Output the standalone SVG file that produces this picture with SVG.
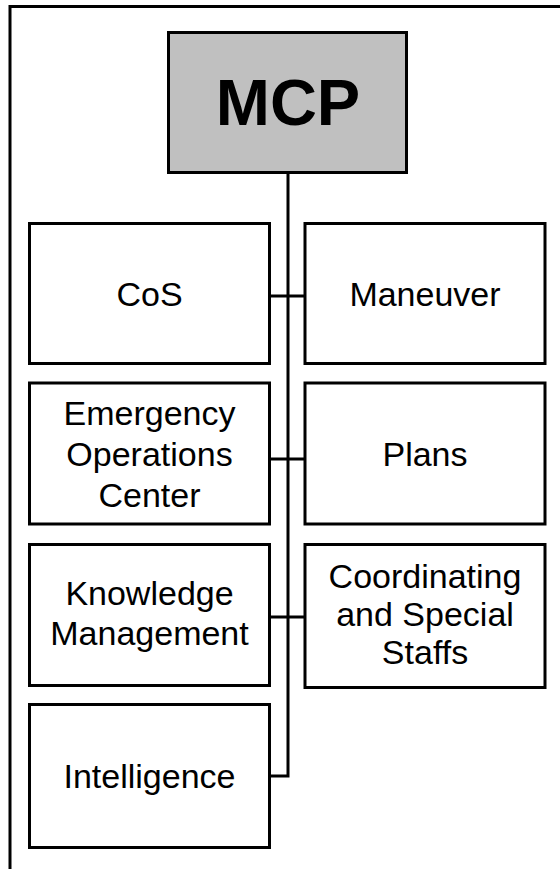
<svg xmlns="http://www.w3.org/2000/svg" width="560" height="869" viewBox="0 0 560 869">
<style>
.box{fill:#ffffff;stroke:#000;stroke-width:3}
.top{fill:#c0c0c0;stroke:#000;stroke-width:3}
.lbl{font-family:"Liberation Sans",Arial,sans-serif;font-size:34px;fill:#000;text-anchor:middle}
.big{font-family:"Liberation Sans",Arial,sans-serif;font-size:65px;font-weight:bold;fill:#000;text-anchor:middle}
.ln{fill:none;stroke:#000;stroke-width:3}
</style>
<rect x="0" y="0" width="560" height="869" fill="#ffffff"/>
<path class="ln" d="M10 869 V6.5 H560"/>
<g id="connectors">
<path class="ln" d="M288 174 V776 H271"/>
<path class="ln" d="M271 296 H304"/>
<path class="ln" d="M271 459 H304"/>
<path class="ln" d="M271 617 H304"/>
</g>
<g id="mcp">
<rect class="top" x="168.5" y="32.5" width="238" height="140"/>
<text class="big" x="288" y="125">MCP</text>
</g>
<g id="cos">
<rect class="box" x="29.5" y="223.5" width="240" height="140"/>
<text class="lbl" x="149.5" y="306">CoS</text>
</g>
<g id="maneuver">
<rect class="box" x="305" y="223.5" width="240" height="140"/>
<text class="lbl" x="425" y="306">Maneuver</text>
</g>
<g id="eoc">
<rect class="box" x="29.5" y="383" width="240" height="141"/>
<text class="lbl" x="149.5" y="425">Emergency</text>
<text class="lbl" x="149.5" y="466">Operations</text>
<text class="lbl" x="149.5" y="507">Center</text>
</g>
<g id="plans">
<rect class="box" x="305" y="383" width="240" height="141"/>
<text class="lbl" x="425" y="466">Plans</text>
</g>
<g id="km">
<rect class="box" x="29.5" y="544.5" width="240" height="141"/>
<text class="lbl" x="149.5" y="605">Knowledge</text>
<text class="lbl" x="149.5" y="645">Management</text>
</g>
<g id="css">
<rect class="box" x="305" y="544.5" width="240" height="143"/>
<text class="lbl" x="425" y="588">Coordinating</text>
<text class="lbl" x="425" y="626">and Special</text>
<text class="lbl" x="425" y="664">Staffs</text>
</g>
<g id="intel">
<rect class="box" x="29.5" y="704.5" width="240" height="143"/>
<text class="lbl" x="149.5" y="788">Intelligence</text>
</g>
</svg>
